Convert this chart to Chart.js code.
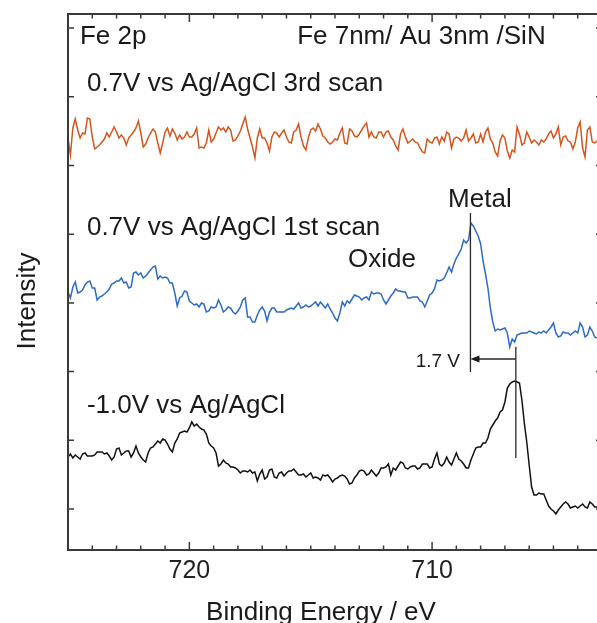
<!DOCTYPE html>
<html>
<head>
<meta charset="utf-8">
<script src="https://cdn.jsdelivr.net/npm/chart.js@4.4.0/dist/chart.umd.min.js"></script>
<style>
html,body{margin:0;padding:0;overflow:hidden;background:#fff;}
#wrap{position:relative;width:610px;height:623px;}
</style>
</head>
<body>
<div id="wrap"><canvas id="c"></canvas></div>
<script>
// Binding energy (eV)
const energy = [
725.0,724.9,724.8,724.7,724.6,724.5,724.4,724.3,724.2,724.1,
724.0,723.9,723.8,723.7,723.6,723.5,723.4,723.3,723.2,723.1,
723.0,722.9,722.8,722.7,722.6,722.5,722.4,722.3,722.2,722.1,
722.0,721.9,721.8,721.7,721.6,721.5,721.4,721.3,721.2,721.1,
721.0,720.9,720.8,720.7,720.6,720.5,720.4,720.3,720.2,720.1,
720.0,719.9,719.8,719.7,719.6,719.5,719.4,719.3,719.2,719.1,
719.0,718.9,718.8,718.7,718.6,718.5,718.4,718.3,718.2,718.1,
718.0,717.9,717.8,717.7,717.6,717.5,717.4,717.3,717.2,717.1,
717.0,716.9,716.8,716.7,716.6,716.5,716.4,716.3,716.2,716.1,
716.0,715.9,715.8,715.7,715.6,715.5,715.4,715.3,715.2,715.1,
715.0,714.9,714.8,714.7,714.6,714.5,714.4,714.3,714.2,714.1,
714.0,713.9,713.8,713.7,713.6,713.5,713.4,713.3,713.2,713.1,
713.0,712.9,712.8,712.7,712.6,712.5,712.4,712.3,712.2,712.1,
712.0,711.9,711.8,711.7,711.6,711.5,711.4,711.3,711.2,711.1,
711.0,710.9,710.8,710.7,710.6,710.5,710.4,710.3,710.2,710.1,
710.0,709.9,709.8,709.7,709.6,709.5,709.4,709.3,709.2,709.1,
709.0,708.9,708.8,708.7,708.6,708.5,708.4,708.3,708.2,708.1,
708.0,707.9,707.8,707.7,707.6,707.5,707.4,707.3,707.2,707.1,
707.0,706.9,706.8,706.7,706.6,706.5,706.4,706.3,706.2,706.1,
706.0,705.9,705.8,705.7,705.6,705.5,705.4,705.3,705.2,705.1,
705.0,704.9,704.8,704.7,704.6,704.5,704.4,704.3,704.2,704.1,
704.0,703.9,703.8,703.7,703.6,703.5,703.4,703.3,703.2,703.1,
703.0
];

// 0.7 V vs Ag/AgCl, 3rd scan (offset intensity, a.u.)
const scan3 = [
412,395,422,431,420,412,417,416,432,431,
413,401,403,405,408,411,417,413,418,423,
418,412,415,412,405,412,415,418,422,429,
417,403,406,412,417,421,418,407,397,407,
418,422,414,421,417,410,415,411,413,418,
413,413,416,422,402,403,402,407,420,408,
411,417,423,420,422,418,423,420,409,410,
414,419,426,433,421,412,403,392,412,421,
412,412,407,399,413,418,417,413,417,420,
413,408,407,418,420,426,413,404,400,412,
420,422,419,426,421,414,412,408,406,408,
411,410,417,422,407,406,421,419,414,413,
416,420,424,427,413,418,413,412,418,418,
413,418,419,413,410,404,400,416,421,413,
407,409,411,408,407,402,398,397,411,408,
407,412,413,406,413,409,418,416,402,411,
413,412,409,412,420,409,412,416,407,408,
416,408,418,422,411,407,398,394,409,415,
412,399,392,400,398,423,416,405,407,418,
413,407,410,408,405,410,408,411,416,419,
412,416,423,405,413,414,409,408,401,408,
422,428,402,393,420,423,408,407,409,411,
410
];

// 0.7 V vs Ag/AgCl, 1st scan
const scan1 = [
258,252,263,268,257,258,260,265,268,269,
262,262,250,253,254,256,258,261,266,267,
269,269,272,267,268,262,263,277,278,275,
277,272,274,277,280,283,284,271,274,272,
273,272,267,267,257,244,252,254,259,258,
249,247,245,246,243,247,246,238,239,243,
242,243,250,245,238,240,243,242,238,236,
239,243,250,252,233,233,228,228,235,240,
243,239,229,238,242,242,238,238,238,238,
240,241,242,241,244,247,242,243,245,243,
244,246,248,244,248,245,242,246,241,237,
232,229,237,248,244,249,247,251,255,254,
253,250,252,253,250,258,256,257,257,256,
250,246,250,254,257,261,259,259,258,258,
252,252,253,253,253,249,248,243,249,255,
257,261,270,269,270,272,277,283,278,286,
292,296,301,310,307,310,327,324,319,314,
306,289,276,262,242,228,219,221,220,221,
222,217,203,211,208,215,216,217,217,217,
219,218,217,216,218,217,219,217,220,223,
227,217,213,214,218,217,217,215,217,219,
217,227,223,213,215,223,219,213,212,213,
215
];

// -1.0 V vs Ag/AgCl
const cathodic = [
93,96,92,95,93,91,96,97,94,94,
94,95,98,98,98,96,97,94,90,93,
101,102,95,97,99,99,93,97,104,97,
93,90,88,97,102,103,106,109,107,111,
110,106,101,98,107,111,117,118,119,118,
122,128,124,126,123,121,120,116,107,104,
102,97,84,86,90,87,86,83,83,82,
80,77,79,79,78,80,77,78,69,76,
80,71,73,80,81,73,72,77,78,74,
77,79,79,81,78,75,75,76,73,75,
77,72,73,72,70,75,74,75,72,68,
71,72,74,75,74,71,66,67,72,75,
79,80,79,75,76,80,77,74,77,82,
82,83,86,75,82,80,84,88,87,82,
81,83,84,84,81,82,86,86,86,82,
83,91,97,86,84,87,93,88,85,91,
97,91,89,86,82,82,90,96,102,103,
103,107,107,112,121,125,129,132,138,140,
148,162,166,168,169,168,167,150,127,108,
85,63,55,55,57,56,56,50,44,41,
39,36,40,43,46,48,46,42,43,44,
42,44,46,43,42,48,46,43,43,45,
44
];

const xTickLabels = [720, 710];
const yTicks = [41, 109.7, 178.4, 247.1, 315.8, 384.5, 453.2, 521.9];

const seriesNames = ['0.7V vs Ag/AgCl 3rd scan', '0.7V vs Ag/AgCl 1st scan', '-1.0V vs Ag/AgCl'];

// Text annotations: [text, energy, intensity, font px, align]
const notes = [
  ['Fe 2p', 724.51, 506, 26, 'left'],
  ['Fe 7nm/ Au 3nm /SiN', 715.56, 506, 26, 'left'],
  ['0.7V vs Ag/AgCl 3rd scan', 724.22, 459, 26, 'left'],
  ['0.7V vs Ag/AgCl 1st scan', 724.22, 315, 26, 'left'],
  ['Oxide', 713.46, 283, 26, 'left'],
  ['Metal', 709.34, 343, 26, 'left'],
  ['-1.0V vs Ag/AgCl', 724.22, 137, 26, 'left'],
  ['1.7 V', 708.85, 183, 19, 'right']
];
// Marker lines: [energy, intensity from, intensity to]
const markers = [[708.42, 337, 178], [706.55, 203, 92]];
const shiftArrow = [706.55, 708.42, 191];

const FONT = "'Liberation Sans', Arial, sans-serif";
const toPts = arr => arr.map((v, i) => ({x: energy[i], y: v}));

const overlay = {
  id: 'overlay',
  afterDraw(chart) {
    const {ctx, chartArea: a, scales: {x, y}} = chart;
    ctx.save();
    // inward ticks
    ctx.strokeStyle = '#3a3a3a';
    ctx.lineWidth = 1.5;
    ctx.beginPath();
    for (let e = 703; e <= 725; e++) {
      const px = x.getPixelForValue(e);
      const len = (e % 10 === 0) ? 8 : 4.5;
      ctx.moveTo(px, a.bottom); ctx.lineTo(px, a.bottom - len);
      ctx.moveTo(px, a.top); ctx.lineTo(px, a.top + len);
    }
    yTicks.forEach(v => {
      const py = y.getPixelForValue(v);
      ctx.moveTo(a.left, py); ctx.lineTo(a.left + 6, py);
      ctx.moveTo(a.right, py); ctx.lineTo(a.right - 6, py);
    });
    ctx.stroke();
    // frame
    ctx.lineWidth = 2;
    ctx.strokeRect(a.left, a.top, a.right - a.left, a.bottom - a.top);

    // marker lines
    ctx.strokeStyle = '#2a2a2a';
    ctx.lineWidth = 1.3;
    ctx.beginPath();
    markers.forEach(([e, i0, i1]) => {
      const px = x.getPixelForValue(e);
      ctx.moveTo(px, y.getPixelForValue(i0));
      ctx.lineTo(px, y.getPixelForValue(i1));
    });
    const ax0 = x.getPixelForValue(shiftArrow[0]);
    const ax1 = x.getPixelForValue(shiftArrow[1]);
    const ay = y.getPixelForValue(shiftArrow[2]);
    ctx.moveTo(ax0, ay); ctx.lineTo(ax1 + 6, ay);
    ctx.stroke();
    ctx.fillStyle = '#1a1a1a';
    ctx.beginPath();
    ctx.moveTo(ax1, ay); ctx.lineTo(ax1 + 9, ay - 3.5); ctx.lineTo(ax1 + 9, ay + 3.5); ctx.closePath();
    ctx.fill();

    // text notes
    ctx.fillStyle = '#1a1a1a';
    ctx.textBaseline = 'alphabetic';
    notes.forEach(([t, e, v, fs, al]) => {
      ctx.font = fs + 'px ' + FONT;
      ctx.textAlign = al;
      ctx.fillText(t, x.getPixelForValue(e), y.getPixelForValue(v));
    });

    // axis titles
    ctx.font = '26px ' + FONT;
    ctx.textAlign = 'center';
    ctx.fillText('Binding Energy / eV', (a.left + a.right) / 2 - 14, a.bottom + 70);
    ctx.save();
    ctx.translate(35, (a.top + a.bottom) / 2 + 19);
    ctx.rotate(-Math.PI / 2);
    ctx.fillText('Intensity', 0, 0);
    ctx.restore();
    ctx.restore();
  }
};

new Chart(document.getElementById('c'), {
  type: 'line',
  data: {
    datasets: [
      {label: seriesNames[0], data: toPts(scan3), borderColor: '#d3561c', borderWidth: 1.5},
      {label: seriesNames[1], data: toPts(scan1), borderColor: '#2c6cc4', borderWidth: 1.5},
      {label: seriesNames[2], data: toPts(cathodic), borderColor: '#111111', borderWidth: 1.5}
    ]
  },
  options: {
    responsive: true,
    maintainAspectRatio: false,
    devicePixelRatio: 1,
    animation: false,
    elements: {point: {radius: 0}, line: {tension: 0}},
    layout: {padding: {left: 68, top: 14, right: 8, bottom: 0}},
    plugins: {legend: {display: false}, tooltip: {enabled: false}},
    scales: {
      x: {
        type: 'linear',
        reverse: true,
        min: 703,
        max: 725,
        afterBuildTicks: s => { s.ticks = xTickLabels.map(v => ({value: v})); },
        afterFit: s => { s.height = 73; },
        grid: {display: false, drawTicks: false},
        border: {display: false},
        ticks: {color: '#222', padding: 6, font: {family: FONT, size: 25}, maxRotation: 0, autoSkip: false}
      },
      y: {
        type: 'linear',
        display: false,
        min: 0,
        max: 536
      }
    }
  },
  plugins: [overlay]
});
</script>
</body>
</html>
